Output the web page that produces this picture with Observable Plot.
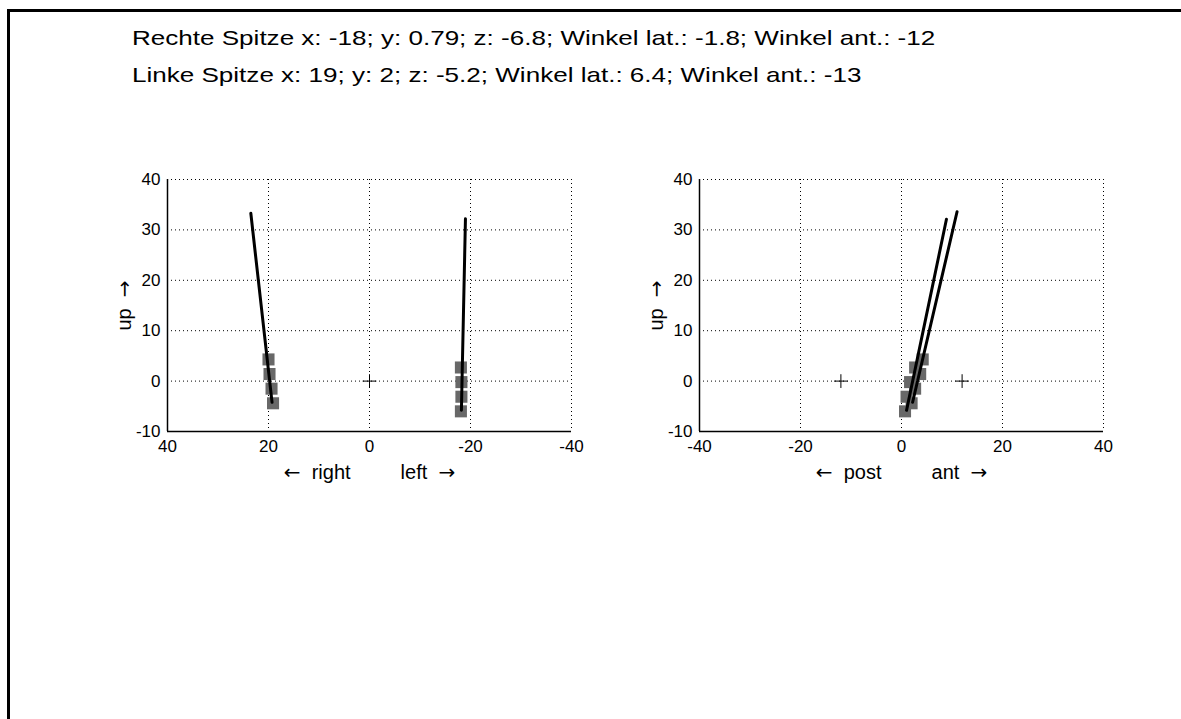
<!DOCTYPE html>
<html><head><meta charset="utf-8">
<script src="https://cdn.jsdelivr.net/npm/d3@7"></script>
<script src="https://cdn.jsdelivr.net/npm/@observablehq/plot@0.6"></script>
<style>
body{margin:0;background:#fff;font-family:"Liberation Sans",Arial,sans-serif;}
#root{position:relative;width:1181px;height:719px;overflow:hidden;background:#fff;}
#frame{position:absolute;left:7px;top:9px;width:1250px;height:800px;border-top:3px solid #000;border-left:3px solid #000;}
.title{position:absolute;left:132px;font-size:21px;line-height:21px;color:#000;white-space:pre;transform:scaleX(1.24);transform-origin:0 0;}
.panel{position:absolute;}
.panel text{white-space:pre;}
.arrow{font-family:"DejaVu Sans",sans-serif;}
</style></head>
<body><div id="root"><div id="frame"></div>
<div class="title" id="t1" style="top:27px"></div><div class="title" id="t2" style="top:64px"></div>
<div class="panel" id="p1" style="left:127px;top:159px"></div><div class="panel" id="p2" style="left:659px;top:159px"></div></div>
<script>
const titleLines = [
  "Rechte Spitze x: -18; y: 0.79; z: -6.8; Winkel lat.: -1.8; Winkel ant.: -12",
  "Linke Spitze x: 19; y: 2; z: -5.2; Winkel lat.: 6.4; Winkel ant.: -13"
];
const xTicks = [-40, -20, 0, 20, 40];
const yTicks = [-10, 0, 10, 20, 30, 40];
const frontXDomain = [40, -40];
const sideXDomain = [-40, 40];
const yDomain = [-10, 40];
const frontXLabel = "←  right         left  →";
const sideXLabel = "←  post         ant  →";
const yLabel = "up  →";

// frontal view (lateral position vs. height)
const frontRightLineX = [23.5, 19.3];
const frontRightLineY = [33.3, -4.2];
const frontRightMarkX = [20.0, 19.8, 19.4, 19.1];
const frontRightMarkY = [4.3, 1.4, -1.5, -4.4];
const frontLeftLineX = [-19.0, -18.2];
const frontLeftLineY = [32.2, -5.8];
const frontLeftMarkX = [-18.1, -18.2, -18.2, -18.1];
const frontLeftMarkY = [2.7, -0.2, -3.1, -6.0];
const frontCrossX = [0];
const frontCrossY = [0];

// side view (anterior/posterior position vs. height)
const sideRightLineX = [11.0, 2.2];
const sideRightLineY = [33.6, -4.2];
const sideRightMarkX = [4.2, 3.7, 2.7, 2.0];
const sideRightMarkY = [4.3, 1.4, -1.5, -4.4];
const sideLeftLineX = [8.9, 1.0];
const sideLeftLineY = [32.1, -5.8];
const sideLeftMarkX = [2.7, 1.7, 1.0, 0.7];
const sideLeftMarkY = [2.7, -0.2, -3.1, -6.0];
const sideCrossX = [-12, 12];
const sideCrossY = [0, 0];

document.getElementById("t1").textContent = titleLines[0];
document.getElementById("t2").textContent = titleLines[1];

const zip = (xs, ys) => xs.map((x, i) => ({x, y: ys[i]}));
const fmt = d => String(d);

function panel(xDomain, xLabel, lines, marks, crosses) {
  return Plot.plot({
    width: 464, height: 322,
    marginLeft: 40, marginRight: 20, marginTop: 20, marginBottom: 50,
    style: {fontFamily: "'Liberation Sans', Arial, sans-serif", fontSize: "17px", color: "#000", background: "transparent", overflow: "visible"},
    x: {domain: xDomain},
    y: {domain: yDomain},
    marks: [
      Plot.gridX(xTicks, {stroke: "#000", strokeOpacity: 1, strokeWidth: 1, strokeDasharray: "1,3"}),
      Plot.gridY(yTicks, {stroke: "#000", strokeOpacity: 1, strokeWidth: 1, strokeDasharray: "1,3"}),
      Plot.ruleX([xDomain[0]], {stroke: "#000", strokeWidth: 1.5}),
      Plot.ruleY([yDomain[0]], {stroke: "#000", strokeWidth: 1.5}),
      Plot.axisX({ticks: xTicks, tickSize: 0, tickPadding: 8, tickFormat: fmt, label: null, fontSize: 17}),
      Plot.axisY({ticks: yTicks, tickSize: 0, tickPadding: 7, tickFormat: fmt, label: null, fontSize: 17}),
      Plot.text([xLabel], {frameAnchor: "bottom", dy: 47, fontSize: 20}),
      Plot.text([yLabel], {frameAnchor: "left", textAnchor: "middle", rotate: -90, dx: -43, fontSize: 20}),
      ...marks.map(m => Plot.dot(m, {x: "x", y: "y", symbol: "square", r: 6.8, fill: "#686868", stroke: "none"})),
      ...lines.map(l => Plot.line(l, {x: "x", y: "y", stroke: "#000", strokeWidth: 3})),
      Plot.dot(crosses, {x: "x", y: "y", symbol: "plus", r: 4.5, stroke: "#000", strokeWidth: 1})
    ]
  });
}

// render arrow glyphs in a font whose arrows are long, like the original
function styleArrows(svg) {
  svg.querySelectorAll("text").forEach(t => {
    if (t.children.length || !/[←→]/.test(t.textContent)) return;
    const parts = t.textContent.split(/([←→])/);
    t.textContent = "";
    parts.forEach(p => {
      if (!p) return;
      const ts = document.createElementNS("http://www.w3.org/2000/svg", "tspan");
      ts.textContent = p;
      if (p === "←" || p === "→") ts.setAttribute("class", "arrow");
      t.appendChild(ts);
    });
  });
  return svg;
}

document.getElementById("p1").append(styleArrows(panel(
  frontXDomain, frontXLabel,
  [zip(frontRightLineX, frontRightLineY), zip(frontLeftLineX, frontLeftLineY)],
  [zip(frontRightMarkX, frontRightMarkY), zip(frontLeftMarkX, frontLeftMarkY)],
  zip(frontCrossX, frontCrossY)
)));
document.getElementById("p2").append(styleArrows(panel(
  sideXDomain, sideXLabel,
  [zip(sideRightLineX, sideRightLineY), zip(sideLeftLineX, sideLeftLineY)],
  [zip(sideRightMarkX, sideRightMarkY), zip(sideLeftMarkX, sideLeftMarkY)],
  zip(sideCrossX, sideCrossY)
)));
</script>
</body></html>
